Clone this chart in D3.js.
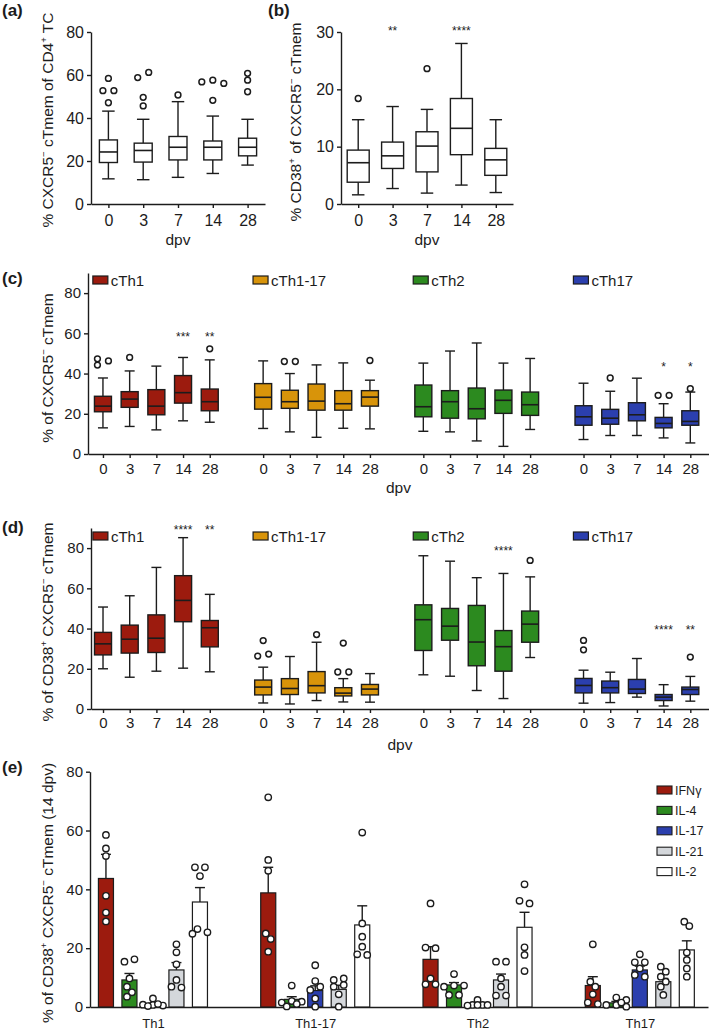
<!DOCTYPE html>
<html><head><meta charset="utf-8">
<script src="https://cdn.jsdelivr.net/npm/d3@7"></script>
<style>body{margin:0;background:#fff}svg{display:block}</style>
</head><body><svg id="chart" width="709" height="1033"></svg>
<script>
// ================= DATA =================
const days = ["0", "3", "7", "14", "28"];
// box stats: [low whisker, Q1, median, Q3, high whisker]
const boxA = [[11.7,19.3,24.2,29.8,43.2],[11.3,19.5,24.9,28.3,39.4],[12.4,20.5,26.4,31.4,47.6],[14.2,20.5,26.4,29.3,40.9],[18.1,22.4,26.4,30.6,39.4]];
const outA = [[58.4,52.7,52.7,47.1],[58.8,61.2,49.6,45.6],[50.7],[57.6,56.1,56.8,48.2],[60.8,57.6,52.2]];
const boxB = [[1.6,3.8,7.2,9.4,14.7],[2.7,6.2,8.4,10.8,17.0],[1.9,5.6,10.1,12.6,16.5],[3.3,8.6,13.2,18.4,28.0],[2.0,5.0,7.7,9.7,14.7]];
const outB = [[18.4],[],[23.6],[],[]];
const sigB = ["", "**", "", "****", ""];
const sigLevelB = 30.7;

const subsets = ["cTh1", "cTh1-17", "cTh2", "cTh17"];
const boxC = [
  [[13,21,23.8,28.7,37.8],[13.7,23.2,27.3,31,41.3],[12,19.5,23.8,32,43.7],[16.5,25.3,30.5,39,48],[15.8,21.5,26,32.3,46.8]],
  [[12.7,22.3,28.2,35,46.3],[11,22.7,26,31.7,40],[8.3,21.8,26.3,34.8,44.3],[12.8,21.8,25,31.5,45.3],[12.5,23.8,28.3,31.5,36.7]],
  [[11.3,18.5,23.5,34.3,45.2],[11,17.8,26,31.5,51.2],[6.5,17.5,22.5,32.8,55.2],[3.8,20.2,26.7,31.8,45.2],[12.2,19.2,24.5,30.8,47.5]],
  [[7.2,14.3,18.5,24,35.2],[9.2,14.8,17.8,22.2,31.2],[9.2,16.5,19.5,25.5,37.7],[8,13,15.2,18.2,25],[5.5,14.3,16.2,21.5,30.8]]
];
const outC = [
  [[47.3,44.2,46.3],[48],[],[],[52.3]],
  [[],[46,46],[],[],[46.5]],
  [[],[],[],[],[]],
  [[],[37.8],[],[29.2,29.2],[32.5]]
];
const sigC = [["","","","***","**"],["","","","",""],["","","","",""],["","","","*","*"]];
const sigLevelC = [59.7, 0, 0, 44.8];

const boxD = [
  [[20,26.9,32.4,38.1,50.7],[15.8,27.8,34.7,41.7,56.3],[18.8,28.1,35.2,46.8,70.4],[20.3,43.4,54,66.3,85.2],[18.5,30.9,40.4,44,57]],
  [[3.0,7.0,10.9,14.4,20.8],[2.5,7.2,10.2,15.1,26.1],[4.2,8.0,11.6,18.6,33.2],[3.5,6.5,7.9,10.6,15.1],[3.4,7.0,9.9,12.2,17.6]],
  [[17,29.1,44.4,51.8,76.2],[16.3,34.2,41.2,50,73.5],[9.2,21.5,33.3,51.5,65.3],[5.2,18.8,31,39,67.4],[25.6,33.2,42.2,48.7,65.7]],
  [[2.9,8.0,11.7,15.2,19.3],[3.2,8.0,10.6,13.9,18.3],[5.9,7.7,9.9,14.7,25.1],[1.5,4.2,5.9,7.2,12.1],[3.9,7.2,9.7,10.9,16.2]]
];
const outD = [
  [[],[],[],[],[]],
  [[34.0,26.3,27.3],[],[37],[32.8,18.4,18.4],[]],
  [[],[],[],[],[73.9]],
  [[34.1,29.4],[],[],[],[25.8]]
];
const sigD = [["","","","****","**"],["","","","",""],["","","","****",""],["","","","****","**"]];
const sigLevelD = [90.4, 0, 80.3, 41];

const groupsE = ["Th1", "Th1-17", "Th2", "Th17"];
const cytokines = ["IFNγ", "IL-4", "IL-17", "IL-21", "IL-2"];
const meanE = [[43.7,9.2,0.8,12.6,35.7],[38.8,2.6,5.6,6.0,27.9],[16.2,7.5,1.0,9.2,27.1],[7.3,1.4,12.6,8.6,19.4]];
const semE  = [[8.2,2.2,0.5,2.5,4.9],[8.7,0.9,1.6,1.4,6.5],[4.3,0.8,0.4,2.0,5.1],[3.0,0.5,1.3,1.1,3.1]];
const dotsE = [
  [[58.5,53.9,51.3,37.8,32.1,29.1],[15.4,16.2,9.7,6.9,5.0,3.5],[2.9,0.7,0.5,0.8,1.0,0.3],[21.3,18.6,14.5,9.2,6.9,6.6],[47.5,47.5,44.5,26.5,25.4,24.9]],
  [[71.3,50.0,46.3,25.0,23.1,18.8],[7.3,2.0,1.8,1.5,1.0,0.2],[14.2,8.8,6.9,5.8,2.9,0.1],[9.2,9.7,6.9,7.5,4.3,0.1],[59.3,28.4,23.9,20.5,17.9,17.7]],
  [[35.2,20.2,20.0,9.7,7.7,7.7],[11.2,7.3,7.3,6.9,4.1,4.1],[2.4,0.7,0.7,0.7,0.7,0.5],[15.4,15.4,9.7,6.9,3.9,3.9],[41.7,36.1,35.2,20.3,17.7,12.2]],
  [[21.3,8.6,6.9,4.3,1.5,1.0],[3.2,2.4,0.7,0.7,0.1,1.5],[17.9,15.2,15.2,10.9,10.3,13.1],[13.7,12.0,10.3,6.9,4.1,8.6],[29.0,27.5,18.5,16.0,13.1,10.3]]
];

// ================= STYLE =================
const FONT = "'Liberation Sans', Arial, Helvetica, sans-serif";
const INK = "#1c1c1c";
const subsetColors = ["#9c1b0e", "#d8940a", "#2c8a1f", "#2b3fae"];
const cytoColors = ["#9c1b0e", "#2c8a1f", "#2b3fae", "#d4d7db", "#ffffff"];

const svg = d3.select("#chart").attr("font-family", FONT);

// ================= HELPERS =================
function styleAxis(a, fs) {
  a.select(".domain").attr("stroke", INK).attr("stroke-width", 1.4);
  a.selectAll(".tick line").attr("stroke", INK).attr("stroke-width", 1.4);
  a.selectAll(".tick text").attr("font-size", fs).attr("fill", INK).attr("font-family", FONT);
}
function yAxis(g, y, x, ticks, fs) {
  const a = g.append("g").attr("transform", `translate(${x},0)`)
    .call(d3.axisLeft(y).tickValues(ticks).tickSize(4).tickPadding(3).tickSizeOuter(0));
  styleAxis(a, fs);
}
function richText(g, x, y, parts, fs, rotate) {
  const t = g.append("text").attr("text-anchor", "middle").attr("font-size", fs).attr("fill", INK)
    .attr("transform", `translate(${x},${y})` + (rotate ? " rotate(-90)" : ""));
  let up = false;
  parts.forEach(p => {
    const sup = Array.isArray(p);
    const s = t.append("tspan").text(sup ? p[0] : p);
    if (sup) { s.attr("font-size", fs * 0.62).attr("dy", -fs * 0.38); up = true; }
    else if (up) { s.attr("dy", fs * 0.38); up = false; }
  });
  return t;
}
function swarm(vals, ys, step, minD, maxK) {
  const placed = vals.map(v => ({ v, py: ys(v), dx: 0 }));
  const done = [];
  placed.forEach(p => {
    const cands = [0];
    for (let k = 1; k <= maxK; k++) cands.push(k * step, -k * step);
    let best = 0, bestD = -1;
    for (const c of cands) {
      const md = done.length ? d3.min(done, q => Math.hypot(q.dx - c, q.py - p.py)) : Infinity;
      if (md >= minD) { best = c; break; }
      if (md > bestD) { bestD = md; best = c; }
    }
    p.dx = best; done.push(p);
  });
  const sorted = placed.slice().sort((a, b) => a.py - b.py);
  let comp = [];
  const flush = () => {
    if (!comp.length) return;
    const e = d3.extent(comp, q => q.dx); const sh = (e[0] + e[1]) / 2;
    comp.forEach(q => q.dx -= sh); comp = [];
  };
  sorted.forEach((q, i) => { if (i > 0 && q.py - sorted[i - 1].py >= minD) flush(); comp.push(q); });
  flush();
  return placed;
}
function drawBox(g, x, y, st, bw, cw, fill) {
  const [lo, q1, md, q3, hi] = st;
  const L = (x1, y1, x2, y2) => g.append("line").attr("x1", x1).attr("y1", y1).attr("x2", x2).attr("y2", y2)
    .attr("stroke", INK).attr("stroke-width", 1.4);
  L(x, y(hi), x, y(q3)); L(x, y(q1), x, y(lo));
  L(x - cw / 2, y(hi), x + cw / 2, y(hi)); L(x - cw / 2, y(lo), x + cw / 2, y(lo));
  g.append("rect").attr("x", x - bw / 2).attr("y", y(q3)).attr("width", bw).attr("height", y(q1) - y(q3))
    .attr("fill", fill).attr("stroke", INK).attr("stroke-width", 1.4);
  L(x - bw / 2, y(md), x + bw / 2, y(md)).attr("stroke-width", 1.6);
}
function drawOutliers(g, x, y, vals) {
  swarm(vals, y, 11, 6, 2).forEach(p => {
    g.append("circle").attr("cx", x + p.dx).attr("cy", p.py).attr("r", 2.9)
      .attr("fill", "#fff").attr("stroke", INK).attr("stroke-width", 1.5);
  });
}
function stars(g, x, yPix, txt) {
  if (!txt) return;
  g.append("text").attr("x", x).attr("y", yPix + 7).attr("text-anchor", "middle")
    .attr("font-size", 12).attr("fill", INK).text(txt);
}
function panelLabel(x, y, t) {
  svg.append("text").attr("x", x).attr("y", y).attr("font-size", 17).attr("font-weight", "bold")
    .attr("fill", INK).text(t);
}

// ================= PANEL A =================
{
  const g = svg.append("g");
  const y = d3.scaleLinear().domain([0, 80]).range([204, 32]);
  const x = d3.scalePoint().domain(days).range([91, 265]).padding(0.5);
  yAxis(g, y, 91, [0, 20, 40, 60, 80], 16);
  const ax = g.append("g").attr("transform", "translate(0,204)")
    .call(d3.axisBottom(x).tickSize(4).tickPadding(7).tickSizeOuter(0));
  styleAxis(ax, 16);
  days.forEach((d, i) => { drawBox(g, x(d), y, boxA[i], 18, 12.5, "#fff"); drawOutliers(g, x(d), y, outA[i]); });
  g.append("text").attr("x", 178).attr("y", 245).attr("text-anchor", "middle").attr("font-size", 15.5).attr("fill", INK).text("dpv");
  richText(g, 53, 120, ["% CXCR5", ["−"], " cTmem of CD4", ["+"], " TC"], 15.5, true);
  panelLabel(2, 16, "(a)");
}
// ================= PANEL B =================
{
  const g = svg.append("g");
  const y = d3.scaleLinear().domain([0, 30]).range([204, 32]);
  const x = d3.scalePoint().domain(days).range([341, 513]).padding(0.5);
  yAxis(g, y, 341, [0, 10, 20, 30], 16);
  const ax = g.append("g").attr("transform", "translate(0,204)")
    .call(d3.axisBottom(x).tickSize(4).tickPadding(7).tickSizeOuter(0));
  styleAxis(ax, 16);
  days.forEach((d, i) => {
    drawBox(g, x(d), y, boxB[i], 22, 12.5, "#fff"); drawOutliers(g, x(d), y, outB[i]);
    stars(g, x(d), y(sigLevelB), sigB[i]);
  });
  g.append("text").attr("x", 427).attr("y", 245).attr("text-anchor", "middle").attr("font-size", 15.5).attr("fill", INK).text("dpv");
  richText(g, 301, 122, ["% CD38", ["+"], " of CXCR5", ["−"], " cTmem"], 15.5, true);
  panelLabel(268, 16, "(b)");
}
// ================= PANELS C & D =================
function subsetPanel(cfg) {
  const g = svg.append("g");
  const y = d3.scaleLinear().domain([0, 90]).range([cfg.y0, cfg.yTop]);
  const x = d3.scaleLinear().domain([cfg.s0, 22.7]).range([cfg.x0, 709]);
  const slots = subsets.flatMap((s, gi) => days.map((d, i) => gi * 6 + i));
  yAxis(g, y, cfg.x0, [0, 20, 40, 60, 80], 15);
  const ax = g.append("g").attr("transform", `translate(0,${cfg.y0})`)
    .call(d3.axisBottom(x).tickValues(slots).tickFormat(s => days[s % 6]).tickSize(4).tickPadding(cfg.pad).tickSizeOuter(0));
  styleAxis(ax, 15);
  subsets.forEach((s, gi) => {
    days.forEach((d, i) => {
      const cx = x(gi * 6 + i);
      drawBox(g, cx, y, cfg.box[gi][i], 17, 10, subsetColors[gi]);
      drawOutliers(g, cx, y, cfg.out[gi][i]);
      stars(g, cx, y(cfg.sigLevel[gi]), cfg.sig[gi][i]);
    });
    const lx = x(gi * 6 + 2) - 63.5;
    g.append("rect").attr("x", lx).attr("y", cfg.legY - 4).attr("width", 15).attr("height", 8)
      .attr("fill", subsetColors[gi]).attr("stroke", INK).attr("stroke-width", 1.2);
    g.append("text").attr("x", lx + 18).attr("y", cfg.legY + 5.5).attr("font-size", 15).attr("fill", INK).text(s);
  });
  g.append("text").attr("x", (cfg.x0 + 709) / 2).attr("y", cfg.dpvY).attr("text-anchor", "middle")
    .attr("font-size", 15.5).attr("fill", INK).text("dpv");
  richText(g, 53, cfg.labY, cfg.label, 15.5, true);
  panelLabel(2, cfg.plY, cfg.pl);
}
subsetPanel({ y0: 454, yTop: 273, x0: 88, s0: -0.56, pad: 5, box: boxC, out: outC, sig: sigC, sigLevel: sigLevelC,
  legY: 280, dpvY: 493, labY: 368, label: ["% of CXCR5", ["−"], " cTmem"], plY: 284, pl: "(c)" });
subsetPanel({ y0: 709, yTop: 528, x0: 91, s0: -0.45, pad: 4, box: boxD, out: outD, sig: sigD, sigLevel: sigLevelD,
  legY: 536, dpvY: 750, labY: 622, label: ["% of CD38", ["+"], " CXCR5", ["−"], " cTmem"], plY: 533, pl: "(d)" });

// ================= PANEL E =================
{
  const g = svg.append("g");
  const y = d3.scaleLinear().domain([0, 80]).range([1007, 771.7]);
  const x = d3.scalePoint().domain(groupsE).range([90, 708]).padding(0.404).align(0.48);
  const xi = d3.scaleBand().domain(cytokines).range([-58.75, 58.75]).paddingInner(0.36).paddingOuter(0.18);
  yAxis(g, y, 90, [0, 20, 40, 60, 80], 15);
  const ax = g.append("g").attr("transform", "translate(0,1007)")
    .call(d3.axisBottom(x).tickSize(0).tickPadding(12).tickSizeOuter(0));
  styleAxis(ax, 13);
  groupsE.forEach((grp, gi) => {
    cytokines.forEach((c, ci) => {
      const bx = x(grp) + xi(c), bw = xi.bandwidth(), cx = bx + bw / 2;
      const m = meanE[gi][ci], e = semE[gi][ci];
      g.append("line").attr("x1", cx).attr("x2", cx).attr("y1", y(m)).attr("y2", y(m + e)).attr("stroke", INK).attr("stroke-width", 1.4);
      g.append("line").attr("x1", cx - 5).attr("x2", cx + 5).attr("y1", y(m + e)).attr("y2", y(m + e)).attr("stroke", INK).attr("stroke-width", 1.4);
      g.append("rect").attr("x", bx).attr("y", y(m)).attr("width", bw).attr("height", y(0) - y(m))
        .attr("fill", cytoColors[ci]).attr("stroke", INK).attr("stroke-width", 1.2);
      swarm(dotsE[gi][ci], y, 5, 6, 2).forEach(p => {
        g.append("circle").attr("cx", cx + p.dx).attr("cy", p.py).attr("r", 3.2)
          .attr("fill", "#fff").attr("stroke", INK).attr("stroke-width", 1.4);
      });
    });
  });
  cytokines.forEach((c, ci) => {
    const ly = 790 + ci * 20.4;
    g.append("rect").attr("x", 657).attr("y", ly - 4).attr("width", 15).attr("height", 8)
      .attr("fill", cytoColors[ci]).attr("stroke", INK).attr("stroke-width", 1.1);
    g.append("text").attr("x", 675).attr("y", ly + 4.5).attr("font-size", 12.5).attr("fill", INK).text(c);
  });
  richText(g, 53, 893, ["% of CD38", ["+"], " CXCR5", ["−"], " cTmem (14 dpv)"], 15.5, true);
  panelLabel(2, 773, "(e)");
}
</script></body></html>
